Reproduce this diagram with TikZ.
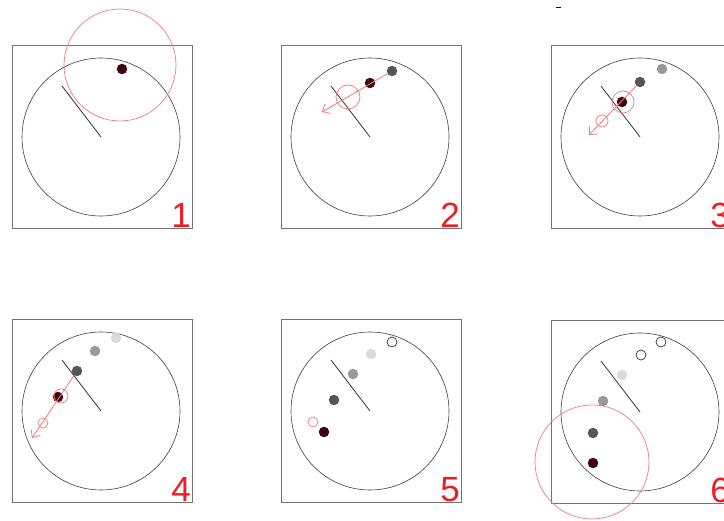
\documentclass[tikz,border=0pt]{standalone}
\usepackage{fontspec}
\newfontfamily\numfont{Liberation Sans}
\usepackage{xcolor}
\usetikzlibrary{arrows.meta}
\definecolor{maroon}{HTML}{3E0812}
\definecolor{dgray}{HTML}{555555}
\definecolor{mgray}{HTML}{999999}
\definecolor{lgray}{HTML}{DADADA}
\definecolor{ringred}{HTML}{F07A7A}
\definecolor{numred}{HTML}{EE1C25}

\begin{document}
\begin{tikzpicture}[x=1pt,y=-1pt,>={Straight Barb[length=6pt,width=11pt]}]
    \tikzset{
      frame/.style={draw=black!55, line width=0.9pt},
      disc/.style={draw=black!75, line width=0.6pt},
      stick/.style={draw=black!80, line width=0.8pt},
      dot/.style={circle, minimum size=10.5pt, inner sep=0pt},
      hollow/.style={dot, draw=black!80, line width=0.7pt, minimum size=10pt},
      ring/.style={draw=ringred, line width=0.7pt},
      arrow/.style={->, draw=ringred, line width=0.8pt},
      num/.style={text=numred, font=\numfont\fontsize{35}{35}\selectfont, inner sep=0pt}
    }
    \useasboundingbox (0,0) rectangle (724,521);
    % panels: frame, circle, stick, number
    \foreach \n/\x/\y in {1/12/45,2/281/45,3/551/45,4/12/319,5/281/319,6/551/320} {
      \draw[frame] (\x,\y) rectangle ++(180,183);
      \draw[disc] (\x+89,\y+92) circle[radius=79];
      \draw[stick] (\x+89,\y+92) -- ++(-39,-51);
      \node[num, anchor=base east] (lab\n) at (\x+179,\y+183) {\n};
    }
    \draw[line width=1pt] (556,8) -- (561,8);
    % 1
    \node[dot, fill=maroon] (p1a) at (122,69) {};
    \draw[ring] (p1a.center) ++(-2,-4) circle[radius=56];
    % 2
    \node[dot, fill=dgray] (p2a) at (392,71) {};
    \node[dot, fill=maroon] (p2b) at (370,83) {};
    \coordinate (t2) at (322,112);
    \draw[arrow] (p2a) -- (t2);
    \draw[ring] (348,97) circle[radius=12];
    % 3
    \node[dot, fill=mgray] (p3a) at (662,69) {};
    \node[dot, fill=dgray] (p3b) at (640,82) {};
    \node[dot, fill=maroon] (p3c) at (622,102) {};
    \coordinate (t3) at (589,135);
    \draw[arrow] (p3b) -- (t3);
    \draw[ring] (623,102) circle[radius=11];
    \draw[ring] (602,121) circle[radius=6];
    % 4
    \node[dot, fill=lgray] (p4a) at (116,338) {};
    \node[dot, fill=mgray] (p4b) at (95,351) {};
    \node[dot, fill=dgray] (p4c) at (77,371) {};
    \node[dot, fill=maroon] (p4d) at (58,397) {};
    \coordinate (t4) at (32,438);
    \draw[arrow] (p4c) -- (t4);
    \draw[ring] (61,396) circle[radius=7];
    \draw[ring] (43,423) circle[radius=5];
    % 5
    \node[hollow] (p5a) at (392,342) {};
    \node[dot, fill=lgray] (p5b) at (371,354) {};
    \node[dot, fill=mgray] (p5c) at (353,374) {};
    \node[dot, fill=dgray] (p5d) at (334,400) {};
    \node[dot, fill=maroon] (p5e) at (324,432) {};
    \draw[ring] (313,422) circle[radius=5];
    % 6
    \node[hollow] (p6a) at (661,342) {};
    \node[hollow] (p6b) at (641,355) {};
    \node[dot, fill=lgray] (p6c) at (622,375) {};
    \node[dot, fill=mgray] (p6d) at (603,401) {};
    \node[dot, fill=dgray] (p6e) at (593,433) {};
    \node[dot, fill=maroon] (p6f) at (593,463) {};
    \draw[ring] (592,462) circle[radius=57];
  \end{tikzpicture}
\end{document}
